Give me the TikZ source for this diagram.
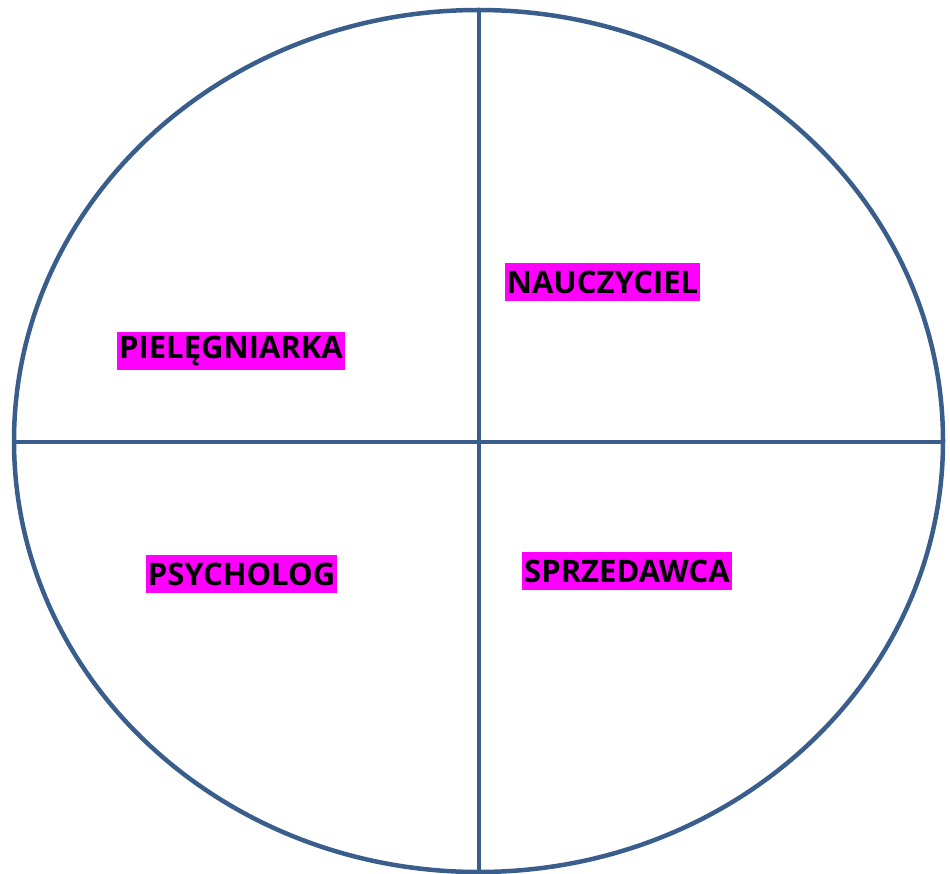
\documentclass[tikz,border=0pt]{standalone}
\usepackage{fontspec}
\setmainfont{Open Sans}
\definecolor{linec}{HTML}{3A5E8C}
\definecolor{hl}{HTML}{FF00FF}
\begin{document}
\begin{tikzpicture}[x=1pt,y=-1pt,
  rim/.style={draw=linec,line width=4.5pt},
  lbl/.style={fill=hl,inner xsep=2pt,inner ysep=0pt,minimum height=38pt,font=\fontsize{31}{32}\selectfont\bfseries,text=black}]
\useasboundingbox (0,0) rectangle (950,874);
\coordinate (c) at (478.5,441);
\draw[rim] (c) ellipse [x radius=464.5, y radius=431];
\coordinate (vt) at (479,10);
\coordinate (vb) at (479,874);
\coordinate (hl) at (14,442);
\coordinate (hr) at (943,442);
\draw[rim] (vt) -- (vb);
\draw[rim] (hl) -- (hr);
\node[lbl] (piel) at (231,351) {PIELĘGNIARKA};
\node[lbl] (naucz) at (602.5,282) {NAUCZYCIEL};
\node[lbl] (psych) at (241.5,574) {PSYCHOLOG};
\node[lbl] (sprz) at (627,571) {SPRZEDAWCA};
\end{tikzpicture}
\end{document}
